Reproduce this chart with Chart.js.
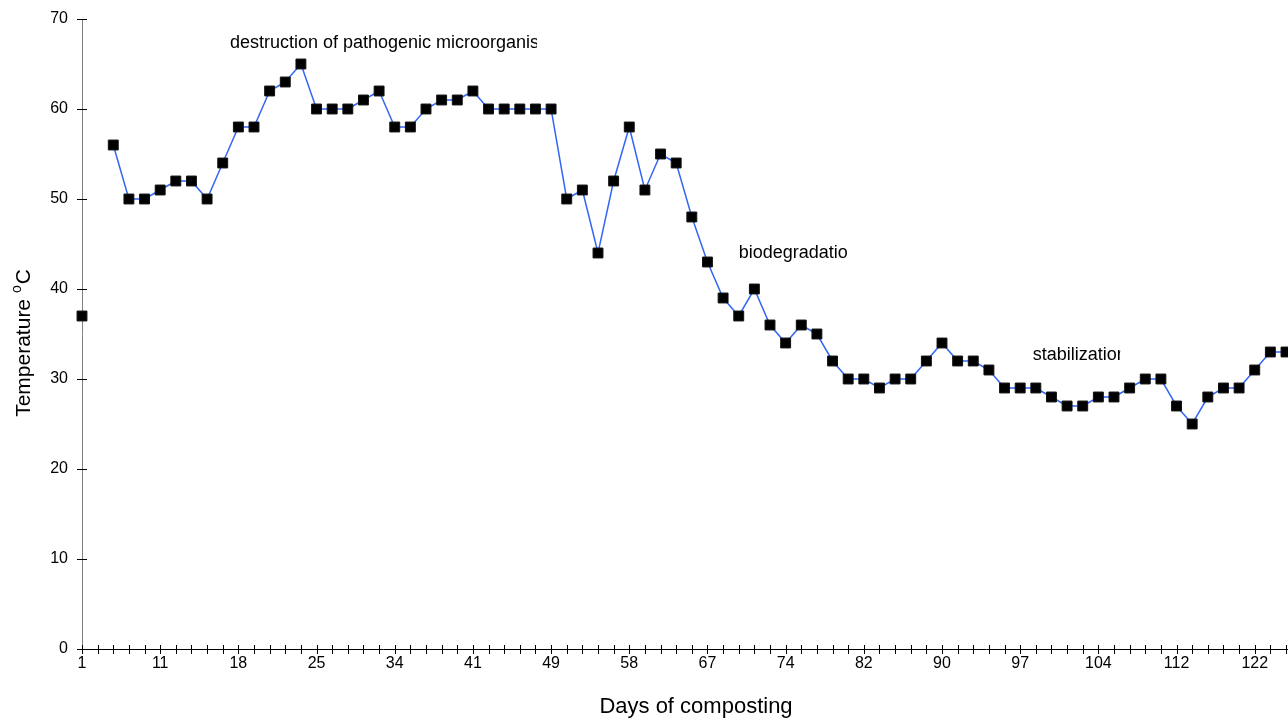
<!DOCTYPE html>
<html>
<head>
<meta charset="utf-8">
<script src="https://cdn.jsdelivr.net/npm/chart.js@4"></script>
<style>
  html, body { margin: 0; padding: 0; background: #fff; }
  #wrap { width: 1288px; height: 718px; }
</style>
</head>
<body>
<div id="wrap"><canvas id="tempChart" width="1288" height="718"></canvas></div>
<script>
// Days of composting (one per measurement; every 5th is labelled)
const days = [1, 3, 5, 7, 9, 11, 12, 14, 15, 17, 18, 19, 21, 22, 24, 25, 27, 29, 31, 32,
  34, 35, 36, 38, 39, 41, 43, 44, 46, 47, 49, 51, 53, 54, 56, 58, 60, 62, 63, 65,
  67, 68, 70, 71, 73, 74, 76, 77, 79, 80, 82, 84, 85, 87, 88, 90, 91, 93, 94, 96,
  97, 98, 100, 101, 103, 104, 106, 107, 109, 110, 112, 114, 116, 118, 120, 122, 124, 126];

// Temperature readings (°C), null = missing measurement
const temperature = [37, null, 56, 50, 50, 51, 52, 52, 50, 54, 58, 58, 62, 63, 65, 60, 60, 60, 61, 62,
  58, 58, 60, 61, 61, 62, 60, 60, 60, 60, 60, 50, 51, 44, 52, 58, 51, 55, 54, 48,
  43, 39, 37, 40, 36, 34, 36, 35, 32, 30, 30, 29, 30, 30, 32, 34, 32, 32, 31, 29,
  29, 29, 28, 27, 27, 28, 28, 29, 30, 30, 27, 25, 28, 29, 29, 31, 33, 33];

// Phase annotations: text, anchor category index, temperature, clip at category index
const phaseLabels = ['destruction of pathogenic microorganisms', 'biodegradation', 'stabilization'];
const phaseIndex = [9.46, 42.0, 60.8];
const phaseTemp = [67.3, 44.0, 32.7];
const phaseClip = [29.1, 48.98, 66.4];

const fontFamily = 'Arial, "Liberation Sans", Helvetica, sans-serif';

// Draws tick marks crossing the axes, the axis titles and the phase texts
const axisMarks = {
  id: 'axisMarks',
  afterDraw(chart) {
    const ctx = chart.ctx;
    const x = chart.scales.x, y = chart.scales.y;
    const area = chart.chartArea;
    ctx.save();
    ctx.strokeStyle = '#000';
    ctx.lineWidth = 1;
    // x axis line + ticks
    ctx.beginPath();
    ctx.moveTo(area.left, Math.round(area.bottom) + 0.5);
    ctx.lineTo(chart.width, Math.round(area.bottom) + 0.5);
    for (let i = 0; i < days.length; i++) {
      const px = Math.round(x.getPixelForValue(i)) + 0.5;
      ctx.moveTo(px, area.bottom - 4);
      ctx.lineTo(px, area.bottom + 5);
    }
    ctx.stroke();
    // y axis ticks
    ctx.beginPath();
    for (let v = 0; v <= 70; v += 10) {
      const py = Math.round(y.getPixelForValue(v)) + 0.5;
      ctx.moveTo(area.left - 5, py);
      ctx.lineTo(area.left + 5, py);
    }
    ctx.stroke();
    // x axis title
    ctx.fillStyle = '#000';
    ctx.textAlign = 'center';
    ctx.textBaseline = 'middle';
    ctx.font = '22px ' + fontFamily;
    ctx.fillText('Days of composting', 696, 707);
    // y axis title with a raised small "o"
    ctx.save();
    ctx.translate(22, 343);
    ctx.rotate(-Math.PI / 2);
    ctx.textAlign = 'left';
    ctx.textBaseline = 'alphabetic';
    const big = '21px ' + fontFamily, small = '14px ' + fontFamily;
    ctx.font = big;
    const w1 = ctx.measureText('Temperature ').width;
    const w3 = ctx.measureText('C').width;
    ctx.font = small;
    const w2 = ctx.measureText('o').width + 1;
    let sx = -(w1 + w2 + w3) / 2;
    ctx.font = big;
    ctx.fillText('Temperature ', sx, 8);
    ctx.font = small;
    ctx.fillText('o', sx + w1, -1);
    ctx.font = big;
    ctx.fillText('C', sx + w1 + w2, 8);
    ctx.restore();
    // phase texts, clipped like the original text boxes
    ctx.textAlign = 'left';
    ctx.textBaseline = 'middle';
    ctx.font = '18px ' + fontFamily;
    for (let i = 0; i < phaseLabels.length; i++) {
      const tx = x.getPixelForValue(phaseIndex[i]);
      const ty = y.getPixelForValue(phaseTemp[i]);
      const cx = x.getPixelForValue(phaseClip[i]);
      ctx.save();
      ctx.beginPath();
      ctx.rect(tx - 2, ty - 14, cx - tx + 2, 28);
      ctx.clip();
      ctx.fillText(phaseLabels[i], tx, ty);
      ctx.restore();
    }
    ctx.restore();
  }
};

new Chart(document.getElementById('tempChart'), {
  type: 'line',
  data: {
    labels: days,
    datasets: [{
      label: 'Temperature',
      data: temperature,
      borderColor: '#3366f5',
      borderWidth: 1.5,
      tension: 0,
      spanGaps: false,
      pointStyle: 'rect',
      pointRadius: 7,
      pointBackgroundColor: '#000',
      pointBorderColor: '#111',
      pointBorderWidth: 1,
      clip: false
    }]
  },
  options: {
    responsive: false,
    animation: false,
    layout: { autoPadding: false, padding: { top: 19, right: 2, left: 0, bottom: 0 } },
    plugins: {
      legend: { display: false },
      tooltip: { enabled: false }
    },
    scales: {
      x: {
        type: 'category',
        offset: false,
        grid: { display: false, drawTicks: false },
        border: { display: false },
        ticks: {
          autoSkip: false,
          maxRotation: 0,
          padding: 5,
          color: '#000',
          font: { size: 16, family: fontFamily },
          callback: function(val, index) { return index % 5 === 0 ? this.getLabelForValue(val) : ''; }
        },
        afterFit(scale) { scale.height = 69; scale.paddingLeft = 0; scale.paddingRight = 0; }
      },
      y: {
        min: 0,
        max: 70,
        grid: { display: false, drawTicks: false },
        border: { display: true, color: '#808080', width: 1 },
        ticks: {
          stepSize: 10,
          padding: 14,
          color: '#000',
          font: { size: 16, family: fontFamily }
        },
        afterFit(scale) { scale.width = 82; scale.paddingTop = 0; scale.paddingBottom = 0; }
      }
    }
  },
  plugins: [axisMarks]
});
</script>
</body>
</html>
